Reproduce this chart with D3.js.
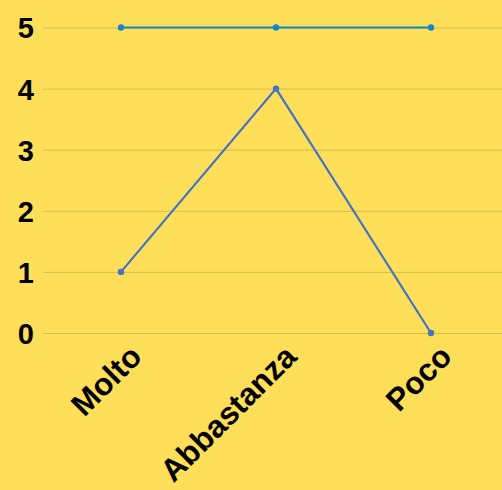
<!DOCTYPE html>
<html><head><meta charset="utf-8">
<script src="https://cdn.jsdelivr.net/npm/d3@7"></script>
<style>html,body{margin:0;padding:0;background:#FFDE59;}svg{display:block;}</style>
</head><body>
<svg id="c" width="502" height="490"></svg>
<script>
const categories = ["Molto", "Abbastanza", "Poco"];
const seriesTop = [5, 5, 5];
const seriesMain = [1, 4, 0];
const yTicks = [0, 1, 2, 3, 4, 5];

const svg = d3.select("#c");
const W = 502, H = 490;
svg.append("rect").attr("width", W).attr("height", H).attr("fill", "#FFDE59");

const x = d3.scalePoint().domain(categories).range([43.5, 508.5]).padding(0.5);
const y = d3.scaleLinear().domain([0, 5]).range([333, 27.5]);

const yAxis = d3.axisLeft(y).tickValues(yTicks).tickFormat(d3.format("d")).tickSize(-(W - 43)).tickPadding(9);
const gy = svg.append("g").attr("transform", "translate(43,0)").call(yAxis);
gy.select(".domain").remove();
gy.selectAll(".tick line").attr("stroke", "#D6BC4C").attr("stroke-width", 1);
gy.selectAll(".tick text").attr("fill", "#000").attr("font-family", "Liberation Sans, Arial, sans-serif")
  .attr("font-weight", "bold").attr("font-size", 29).attr("dy", "0.36em");

const xAxis = d3.axisBottom(x).tickSize(0).tickPadding(0);
const gx = svg.append("g").attr("transform", "translate(0,333)").call(xAxis);
gx.select(".domain").remove();
gx.selectAll(".tick text").attr("fill", "#000").attr("font-family", "Liberation Sans, Arial, sans-serif")
  .attr("font-weight", "bold").attr("font-size", 31.5)
  .attr("text-anchor", "end").attr("dy", null).attr("y", 0)
  .attr("transform", "translate(22,25.5) rotate(-45)");

const line = d3.line().x((d, i) => x(categories[i])).y(d => y(d));

function drawSeries(vals, color) {
  svg.append("path").datum(vals).attr("d", line).attr("fill", "none")
    .attr("stroke", color).attr("stroke-width", 2.2);
  svg.selectAll(null).data(vals).enter().append("circle")
    .attr("cx", (d, i) => x(categories[i])).attr("cy", d => y(d)).attr("r", 3.2).attr("fill", color);
}
drawSeries(seriesMain, "#4472C4");
drawSeries(seriesTop, "#0F87CC");
</script>
</body></html>
